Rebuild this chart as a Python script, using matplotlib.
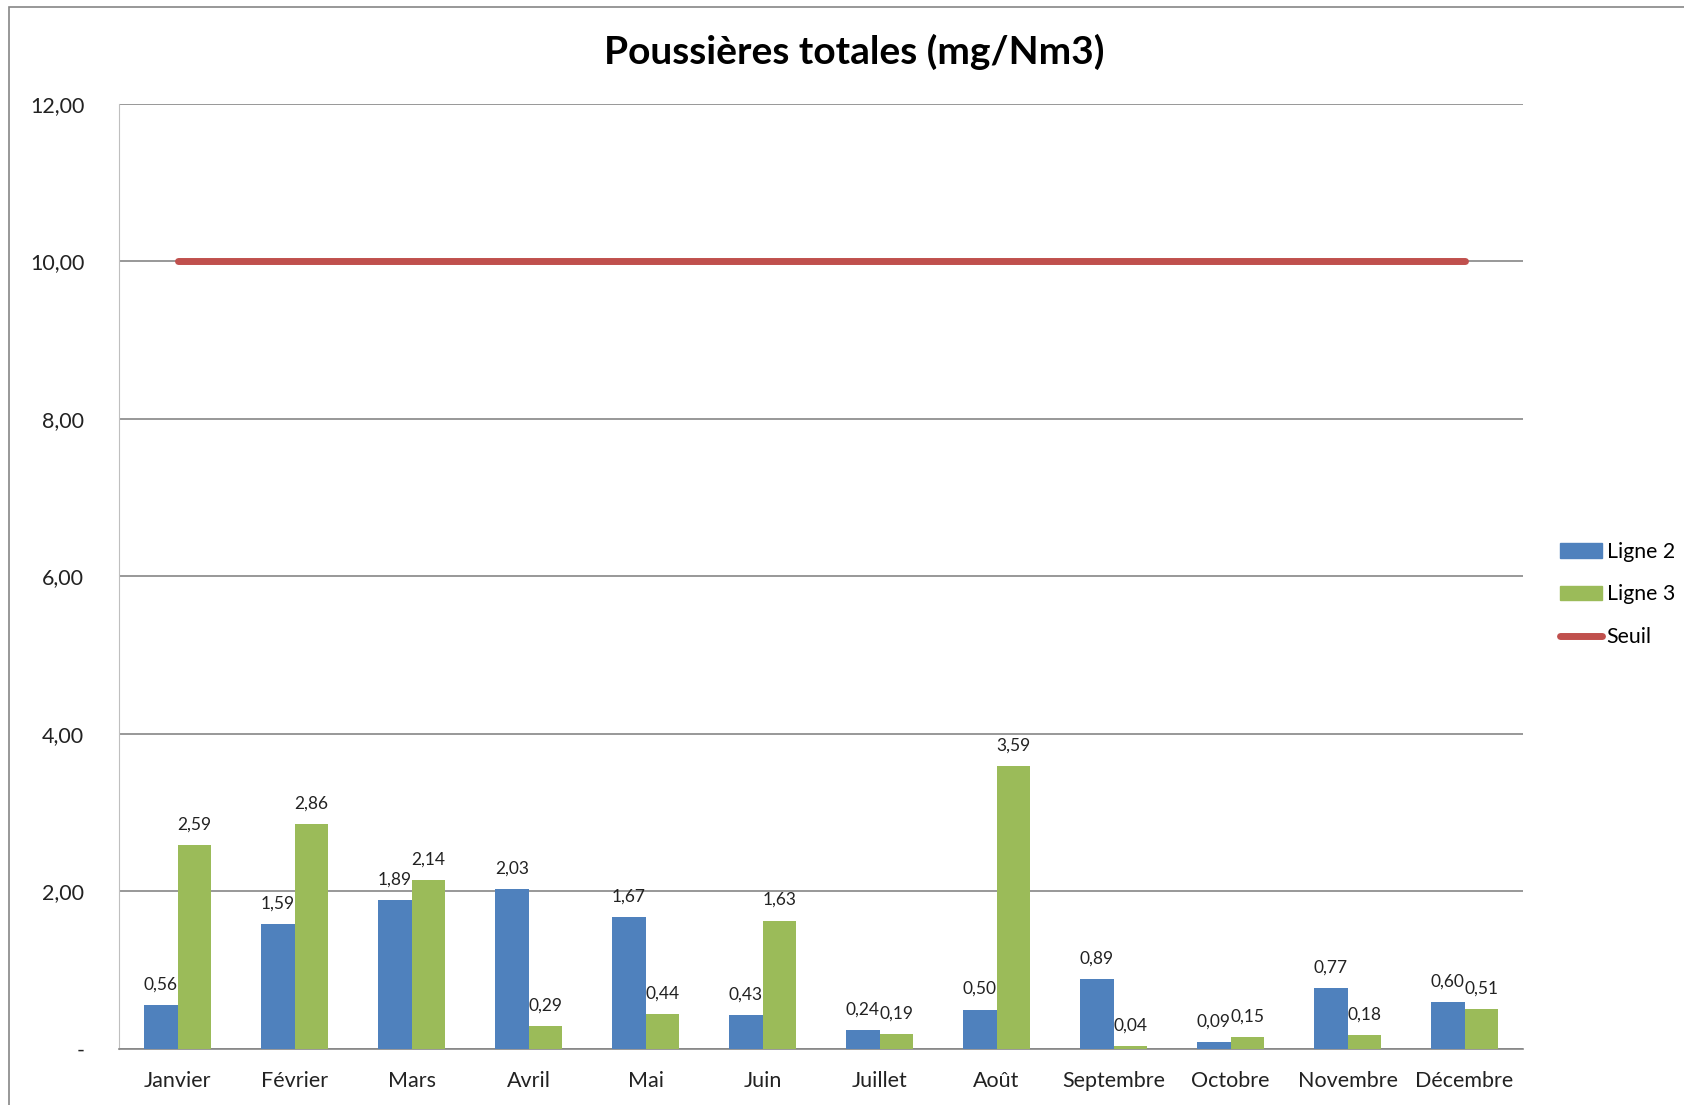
import numpy as np
import matplotlib.pyplot as plt
from matplotlib.patches import Rectangle
from matplotlib.lines import Line2D
from matplotlib.patches import Patch

plt.rcParams['font.family'] = ['Lato', 'DejaVu Sans']

mois = ["Janvier", "Février", "Mars", "Avril", "Mai", "Juin", "Juillet",
        "Août", "Septembre", "Octobre", "Novembre", "Décembre"]
ligne2 = [0.56, 1.59, 1.89, 2.03, 1.67, 0.43, 0.24, 0.50, 0.89, 0.09, 0.77, 0.60]
ligne3 = [2.59, 2.86, 2.14, 0.29, 0.44, 1.63, 0.19, 3.59, 0.04, 0.15, 0.18, 0.51]
seuil = [10.0] * 12
yticks = [0, 2, 4, 6, 8, 10, 12]

BLUE = "#4F81BD"
GREEN = "#9BBB59"
RED = "#C0504D"


def fr(v):
    return f"{v:.2f}".replace(".", ",")


fig = plt.figure(figsize=(16.84, 11.05), dpi=100)
ax = fig.add_axes([0.0707, 0.0507, 0.8337, 0.8553])

# chart frame
fig.patches.append(Rectangle((9 / 1684, -0.1), 2.0, 1 - 7 / 1105 + 0.1,
                             transform=fig.transFigure, fill=False,
                             edgecolor="#868686", linewidth=1.2))

x = np.arange(len(mois))
w = 0.285
b2 = ax.bar(x - w / 2, ligne2, w, color=BLUE, zorder=3)
b3 = ax.bar(x + w / 2, ligne3, w, color=GREEN, zorder=3)
ax.plot(x, seuil, color=RED, linewidth=5, solid_capstyle="round", zorder=4)

for bars, vals in ((b2, ligne2), (b3, ligne3)):
    for r, v in zip(bars, vals):
        ax.annotate(fr(v), (r.get_x() + r.get_width() / 2, v),
                    xytext=(0, 9), textcoords="offset points",
                    ha="center", va="bottom", fontsize=12.5, color="#222222")

ax.set_xlim(-0.5, len(mois) - 0.5)
ax.set_ylim(0, 12)
ax.set_yticks(yticks)
ax.set_yticklabels(["-" if t == 0 else fr(t) for t in yticks], fontsize=15.5)
ax.set_xticks(x)
ax.set_xticklabels(mois, fontsize=15.5)
ax.tick_params(axis="both", length=0, colors="#222222")
ax.tick_params(axis="y", pad=25)
ax.tick_params(axis="x", pad=16)
ax.yaxis.grid(True, color="#868686", linewidth=1.2, zorder=0)

for s in ("top", "right"):
    ax.spines[s].set_visible(False)
ax.spines["left"].set_color("#BFBFBF")
ax.spines["bottom"].set_color("#868686")
ax.spines["bottom"].set_linewidth(1.2)

fig.text(0.507, 0.953, "Poussières totales (mg/Nm3)", ha="center", va="center",
         fontsize=28, fontweight="bold")

handles = [Patch(color=BLUE), Patch(color=GREEN),
           Line2D([0], [0], color=RED, linewidth=5, solid_capstyle="round")]
fig.legend(handles, ["Ligne 2", "Ligne 3", "Seuil"], loc="center left",
           bbox_to_anchor=(0.915, 0.462), frameon=False, fontsize=15.3,
           handlelength=2.0, handletextpad=0.2, labelspacing=1.07)

fig.savefig("out.png", dpi=100)
